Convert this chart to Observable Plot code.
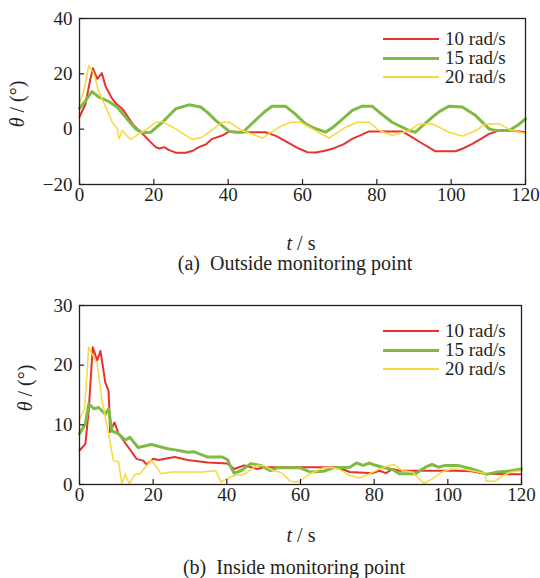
<!DOCTYPE html>
<html><head><meta charset="utf-8">
<script src="https://cdn.jsdelivr.net/npm/d3@7"></script>
<script src="https://cdn.jsdelivr.net/npm/@observablehq/plot@0.6"></script>
<style>
body{margin:0;background:#fff;}
#wrap{position:relative;width:540px;height:578px;font-family:'Liberation Serif','Times New Roman',Tinos,serif;color:#231f20;overflow:hidden;}
.abs{position:absolute;white-space:nowrap;line-height:1;}
.c{transform:translate(-50%,-50%);}
.ylab{transform:translate(-50%,-50%) rotate(-90deg);font-size:20px;}
.xlab{font-size:20px;}
.cap{font-size:20px;}
.lg{font-size:19px;line-height:16px;height:16px;transform:translateY(-50%);}
.sw{position:absolute;width:56px;}
svg{position:absolute;left:0;overflow:visible;}
svg text{font-family:'Liberation Serif','Times New Roman',Tinos,serif !important;}
</style></head><body><div id="wrap"></div>
<script>
const xTicks = [0, 20, 40, 60, 80, 100, 120];
const yTicksOutside = [-20, 0, 20, 40];
const yTicksInside = [0, 10, 20, 30];
const seriesNames = ["10 rad/s", "15 rad/s", "20 rad/s"];
const seriesColors = ["#e8302f", "#7fba42", "#f6d93d"];
const seriesWidths = [2, 3, 1.5];

const outside10 = [[0,4.5],[1.6,9],[2.6,16],[3.6,22],[4.8,18.2],[6,20.3],[7.1,15.2],[8.8,11],[10,9],[11.5,7.4],[13,4.5],[14.6,1.3],[17.4,-2.3],[19,-4.5],[20.5,-6.5],[21.5,-7],[22.8,-6.5],[24,-7.5],[25.9,-8.5],[28.6,-8.5],[30.5,-7.8],[32.1,-6.5],[34,-5.5],[35.7,-3.5],[38.4,-2.3],[40.3,-0.8],[44,-1.1],[50,-1.1],[53,-2.5],[56,-4.8],[59,-7],[61.3,-8.3],[63.6,-8.4],[66,-7.8],[68,-7.1],[71,-5.5],[73.4,-3.5],[76,-2],[77.9,-0.8],[86.8,-0.8],[89,-2.5],[92,-5],[95.8,-8],[101.2,-8],[103.5,-6.8],[105.7,-5.3],[108,-3.5],[110.2,-1.7],[112.9,-0.5],[116,-0.5],[120,-1.1]];
const outside15 = [[0,7.5],[1.5,10],[3.3,13.6],[5.2,11.6],[7.9,10],[10.2,7.9],[12.4,4.3],[15.1,0.1],[16.9,-1.3],[19.2,-1.1],[22.3,2.5],[25.9,7.4],[29.5,8.8],[32.6,8],[34.5,6],[36.7,3.1],[40.3,-0.8],[42,-1.1],[44,-1.1],[46,1.5],[48.2,4.3],[50,6.5],[51.8,8.3],[55.4,8.3],[58,5.5],[60.8,1.9],[63,0.5],[66.2,-1.1],[68,0.5],[69.8,2.5],[73.4,6.8],[76.1,8.3],[78.7,8.3],[80.7,6.1],[84.1,2.5],[88.7,-0.5],[90.4,-1.1],[92.5,1.5],[94.9,4.3],[97,6.5],[99.4,8.3],[103,8],[106.6,4.9],[110.2,0.1],[112,-0.5],[115.6,-0.5],[118,1.5],[120,3.7]];
const outside20 = [[0,9.5],[1.2,14],[2.5,23],[3.9,20],[5.2,13.4],[7.1,7.9],[8.8,2.5],[10.2,0.1],[10.6,-3.5],[11.5,-0.5],[13.7,-3.7],[16,-1.7],[18.2,0.1],[20.5,2.5],[22.3,2.7],[25.9,0.1],[30.3,-3.7],[33,-2.9],[36.7,0.7],[38.4,2.5],[40.3,2.5],[43.8,-0.5],[49.2,-3.2],[53.7,0.7],[56.8,2.5],[59.5,2.5],[63.5,-0.5],[67.1,-3.2],[71.6,0.7],[74.7,2.5],[77.9,2.5],[80.7,-0.5],[84.1,-2.3],[88.7,-0.5],[91.4,1.9],[94.9,1.9],[99.4,-1.1],[103,-2.5],[106.6,-0.5],[109.3,1.9],[112.9,1.9],[116.4,-0.5],[120,-1.5]];

const inside10 = [[0,5.7],[1.6,6.8],[2.5,12.4],[3.6,23],[4.8,20.8],[5.7,22.4],[7,17.1],[7.9,15.7],[8.3,8.8],[9.5,10.4],[10.6,8.5],[13.3,6.2],[15.5,4.3],[17.3,4],[18.2,3.35],[20,4.3],[21.5,4.1],[25.8,4.6],[29.4,4.1],[34.8,3.7],[40.2,3.5],[42,2.6],[44.7,3.2],[48.3,2.6],[50,2.9],[60,2.9],[70,2.9],[73.4,2.1],[79.6,1.9],[81.4,2.3],[83.2,1.9],[85,2.6],[86.8,2.3],[92.1,2.3],[97.5,2.3],[101.9,2.3],[106.4,2.2],[110,1.8],[120,1.7]];
const inside15 = [[0,8.5],[1.6,10.2],[2.5,13.5],[3.9,12.7],[5.2,12.9],[7,11.8],[7.9,12.7],[8.8,9],[10.6,8.5],[12.4,7.4],[13.7,7.9],[15.9,6.2],[19.5,6.7],[24,6],[26,5.8],[29.4,5.4],[31,5.5],[34.8,4.6],[38.8,4.6],[40.3,4.1],[40.6,3.5],[42,1.9],[43.8,2.3],[46.5,3.5],[49.2,3.2],[51.8,2.3],[53.7,2.8],[59.9,2.8],[62.6,2.1],[66.2,2.2],[68.9,2.8],[73.4,2.9],[75.2,3.6],[77,3.2],[78.8,3.6],[79.6,3.35],[82.3,2.9],[85,2.5],[86.8,1.8],[91.2,1.8],[93.9,2.9],[95.7,3.35],[97.5,2.9],[99.3,3.2],[102.8,3.2],[106.4,2.6],[109.1,2.1],[110.4,1.7],[113.6,2.1],[117.2,2.3],[120,2.6]];
const inside20 = [[0,11],[1.4,12.7],[2.5,23],[4.8,20.2],[6.1,14.1],[7.9,8.5],[9.2,4],[10.6,3.8],[11.5,0.1],[12.4,1.8],[13.5,0.1],[15.1,1.7],[16.4,1.8],[19.5,4.1],[22.2,1.8],[24.9,2.1],[27.6,2.1],[33,2.1],[37,2.3],[38.4,0.4],[40.2,1],[42,1.5],[44.7,1.7],[48.2,3.2],[50,3.2],[52.6,2.3],[54.8,2],[57.2,0.55],[59.4,0.4],[62.6,1.8],[66.2,2.8],[68,2.9],[70.7,2.5],[73.4,1.5],[76.1,1.1],[78.8,1.8],[81.4,2.6],[83.2,3],[85.4,3.35],[87.7,2.3],[90.3,2.1],[93.5,0.2],[95.7,0.9],[98.4,2.1],[101,2.6],[104.6,2.5],[108.2,2.1],[110,1.9],[110.4,0.55],[112.8,0.55],[115,1.5],[117.2,2.1],[120,2.3]];

const wrap = document.getElementById("wrap");
const ink = "#231f20";
const serif = "'Liberation Serif','Times New Roman',Tinos,serif";

function panel({series, yDomain, yTicks, top, height, marginRight}) {
  const marginTop = 18, marginBottom = 28, marginLeft = 79;
  const innerH = height - marginTop - marginBottom;
  const innerW = 540 - marginLeft - marginRight;
  const svg = Plot.plot({
    width: 540, height, marginTop, marginBottom, marginLeft, marginRight,
    style: {fontFamily: serif, fontSize: "19px", color: ink, background: "transparent", overflow: "visible"},
    x: {domain: [0, 120]},
    y: {domain: yDomain},
    marks: [
      ...series.map((s, i) => Plot.line(s, {x: d => d[0], y: d => d[1], stroke: seriesColors[i], strokeWidth: seriesWidths[i], strokeLinejoin: "round"})),
      Plot.tickX(xTicks, {x: d => d, insetTop: innerH - 5, stroke: ink, strokeWidth: 1.2}),
      Plot.tickY(yTicks, {y: d => d, insetRight: innerW - 5, stroke: ink, strokeWidth: 1.2}),
      Plot.frame({stroke: ink, strokeWidth: 1.3}),
      Plot.axisX(xTicks, {tickSize: 0, tickPadding: 3, label: null, fontSize: 19}),
      Plot.axisY(yTicks, {tickSize: 0, tickPadding: 7, label: null, fontSize: 19})
    ]
  });
  svg.setAttribute("font-family", serif);
  svg.style.fontFamily = serif;
  svg.style.top = top + "px";
  wrap.appendChild(svg);
}

panel({series: [outside10, outside15, outside20], yDomain: [-20, 40], yTicks: yTicksOutside, top: 0, height: 212, marginRight: 15});
panel({series: [inside10, inside15, inside20], yDomain: [0, 30], yTicks: yTicksInside, top: 287, height: 225, marginRight: 19});

function addText(html, cls, left, top) {
  const d = document.createElement("div");
  d.className = "abs " + cls;
  d.style.left = left + "px"; d.style.top = top + "px";
  d.style.fontFamily = serif;
  d.innerHTML = html;
  wrap.appendChild(d);
}
addText("<i>θ</i> / (°)", "ylab", 17, 104);
addText("<i>θ</i> / (°)", "ylab", 25, 388);
addText("<i>t</i> / s", "xlab c", 301, 243);
addText("<i>t</i> / s", "xlab c", 301, 535);
addText("(a)&nbsp; Outside monitoring point", "cap c", 295, 263);
addText("(b)&nbsp; Inside monitoring point", "cap c", 294, 567);

function legend(ys) {
  seriesNames.forEach((name, i) => {
    const sw = document.createElement("div");
    sw.className = "sw";
    sw.style.left = "383px";
    sw.style.top = Math.round(ys[i] - seriesWidths[i] / 2) + "px";
    sw.style.height = Math.max(2, Math.round(seriesWidths[i])) + "px";
    sw.style.background = seriesColors[i];
    wrap.appendChild(sw);
    addText(name, "lg", 445, ys[i]);
  });
}
legend([39, 58, 77]);
legend([331, 350, 369]);
</script></body></html>
